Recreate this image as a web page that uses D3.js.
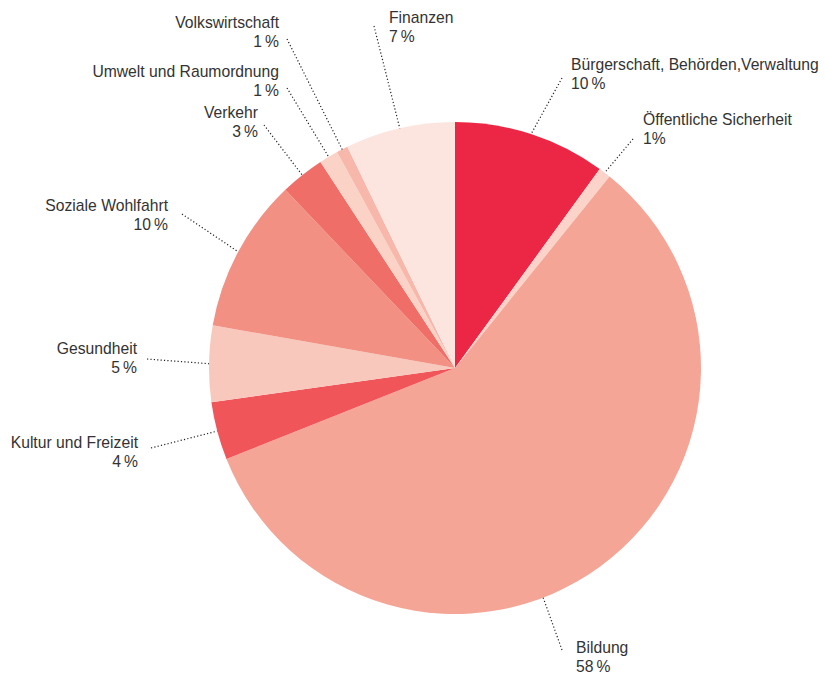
<!DOCTYPE html>
<html>
<head>
<meta charset="utf-8">
<script src="https://cdn.jsdelivr.net/npm/d3@7"></script>
<style>
  body { margin: 0; background: #fff; }
  text { font-family: "Liberation Sans", Arial, sans-serif; font-size: 15.7px; fill: #333; }
</style>
</head>
<body>
<svg id="pie"></svg>
<script>
// budget shares, clockwise from 12 o'clock (slice sizes)
const categories = [
    "Bürgerschaft, Behörden,Verwaltung",
    "Öffentliche Sicherheit",
    "Bildung",
    "Kultur und Freizeit",
    "Gesundheit",
    "Soziale Wohlfahrt",
    "Verkehr",
    "Umwelt und Raumordnung",
    "Volkswirtschaft",
    "Finanzen"
];
const shares = [10.0, 0.8, 58.1, 3.8, 5.0, 10.1, 2.9, 1.25, 0.75, 7.2];
// percentages as printed in the labels
const shareLabels = ["10\u2009%", "1%", "58\u2009%", "4\u2009%", "5\u2009%", "10\u2009%", "3\u2009%", "1\u2009%", "1\u2009%", "7\u2009%"];
const colors = ["#ec2745", "#fbd3c8", "#f5a596", "#f0555a", "#f9c8bc",
                "#f29084", "#f06e68", "#fbd2c6", "#f8b7ab", "#fce5df"];

// label placement: text anchor point, where the dotted leader starts,
// and (for Bildung) a leader angle other than the slice middle
const labelLayout = [
    {tx: 571, ty: 70,  anchor: "start", lx: 562, ly: 78},
    {tx: 643, ty: 125, anchor: "start", lx: 633, ly: 139},
    {tx: 576, ty: 653, anchor: "start", lx: 562, ly: 650, angle: 159},
    {tx: 138, ty: 448, anchor: "end",   lx: 151, ly: 448},
    {tx: 137, ty: 354, anchor: "end",   lx: 147, ly: 359},
    {tx: 168, ty: 211, anchor: "end",   lx: 182, ly: 214},
    {tx: 258, ty: 118, anchor: "end",   lx: 264, ly: 125},
    {tx: 279, ty: 77,  anchor: "end",   lx: 287, ly: 88},
    {tx: 279, ty: 28,  anchor: "end",   lx: 287, ly: 39},
    {tx: 389, ty: 23,  anchor: "start", lx: 374, ly: 26}
];

const width = 825, height = 675;
const cx = 455, cy = 368, radius = 246;

const svg = d3.select("#pie")
    .attr("width", width)
    .attr("height", height);

const data = categories.map((name, i) => ({name, value: shares[i], label: shareLabels[i], color: colors[i], layout: labelLayout[i]}));

const pie = d3.pie()
    .sort(null)
    .value(d => d.value);

const arc = d3.arc()
    .innerRadius(0)
    .outerRadius(radius);

const arcs = pie(data);

const chart = svg.append("g")
    .attr("transform", `translate(${cx},${cy})`);

// slices
chart.selectAll("path")
    .data(arcs)
    .join("path")
    .attr("d", arc)
    .attr("fill", d => d.data.color);

// angle where the leader meets the rim
const leaderAngle = d => d.data.layout.angle != null
    ? d.data.layout.angle * Math.PI / 180
    : (d.startAngle + d.endAngle) / 2;

// dotted leaders from label to the rim
svg.append("g")
    .selectAll("line")
    .data(arcs)
    .join("line")
    .attr("x1", d => d.data.layout.lx)
    .attr("y1", d => d.data.layout.ly)
    .attr("x2", d => cx + radius * Math.sin(leaderAngle(d)))
    .attr("y2", d => cy - radius * Math.cos(leaderAngle(d)))
    .attr("stroke", "#222")
    .attr("stroke-width", 1.2)
    .attr("stroke-dasharray", "1.2,2.2");

// labels: name on first line, percentage below
const labels = svg.append("g")
    .selectAll("text")
    .data(arcs)
    .join("text")
    .attr("x", d => d.data.layout.tx)
    .attr("y", d => d.data.layout.ty)
    .attr("text-anchor", d => d.data.layout.anchor);

labels.append("tspan")
    .attr("x", d => d.data.layout.tx)
    .text(d => d.data.name);

labels.append("tspan")
    .attr("x", d => d.data.layout.tx)
    .attr("dy", 18.5)
    .text(d => d.data.label);
</script>
</body>
</html>
